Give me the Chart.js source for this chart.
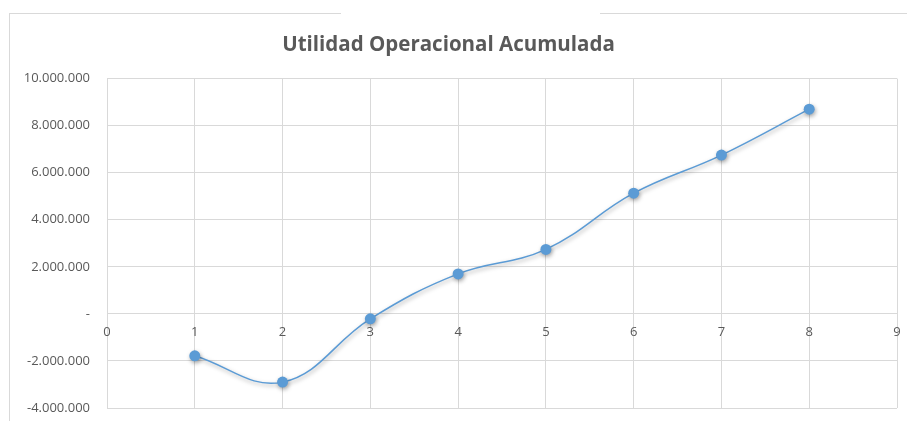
<!DOCTYPE html>
<html>
<head>
<meta charset="utf-8">
<script src="https://cdn.jsdelivr.net/npm/chart.js@4.4.1/dist/chart.umd.min.js"></script>
<style>
  html, body { margin: 0; padding: 0; background: #fff; }
  #wrap { position: relative; width: 907px; height: 421px; }
  #frame { position: absolute; left: 9px; top: 13px; right: -2px; bottom: -2px;
           border-left: 1px solid #d9d9d9; border-top: 1px solid #d9d9d9; }
  #gap { position: absolute; left: 341px; top: 11px; width: 259px; height: 4px; background: #fff; }
  canvas { position: absolute; left: 0; top: 0; }
</style>
</head>
<body>
<div id="wrap">
  <div id="frame"></div>
  <div id="gap"></div>
  <canvas id="utilidadChart" width="907" height="421"></canvas>
</div>
<script>
// Periodos y valores
const periodos = [1, 2, 3, 4, 5, 6, 7, 8];
const utilidadAcumulada = [-1780000, -2900000, -210000, 1700000, 2740000, 5130000, 6750000, 8700000];

// Escalas
const xMin = 0, xMax = 9, xStep = 1;
const yMin = -4000000, yMax = 10000000, yStep = 2000000;

const gridColor = '#d9d9d9';
const textColor = '#595959';
const serieColor = '#5b9bd5';

// Formato de miles con punto, el cero como guion
function formatMiles(value) {
    if (value === 0) return '-';
    return value.toLocaleString('de-DE');
}

// Sombra suave bajo los marcadores
const sombraPlugin = {
    id: 'sombra',
    beforeDatasetDraw(chart) {
        const ctx = chart.ctx;
        ctx.save();
        ctx.shadowColor = 'rgba(0,0,0,0.35)';
        ctx.shadowBlur = 4;
        ctx.shadowOffsetX = 1;
        ctx.shadowOffsetY = 2;
    },
    afterDatasetDraw(chart) {
        chart.ctx.restore();
    }
};

try {
    const ctx = document.getElementById('utilidadChart').getContext('2d');
    new Chart(ctx, {
        type: 'scatter',
        data: {
            datasets: [{
                label: 'Utilidad Operacional Acumulada',
                data: periodos.map((p, i) => ({ x: p, y: utilidadAcumulada[i] })),
                showLine: true,
                tension: 0.4,
                borderColor: serieColor,
                borderWidth: 1.5,
                backgroundColor: serieColor,
                pointRadius: 5.5,
                pointBorderWidth: 0,
                pointHoverRadius: 5.5
            }]
        },
        plugins: [sombraPlugin],
        options: {
            responsive: false,
            animation: false,
            layout: { padding: { left: 0, right: 10, top: 0, bottom: 13 } },
            plugins: {
                legend: { display: false },
                tooltip: { enabled: false },
                title: {
                    display: true,
                    text: 'Utilidad Operacional Acumulada',
                    color: textColor,
                    font: { family: 'Open Sans', size: 20.5, weight: '700' },
                    padding: { top: 33, bottom: 21 }
                }
            },
            scales: {
                x: {
                    type: 'linear',
                    position: { y: 0 },
                    min: xMin,
                    max: xMax,
                    grid: { color: gridColor, drawTicks: false },
                    border: { display: false },
                    afterFit(scale) {
                        scale.height = 0;
                        scale.paddingLeft = 0;
                        scale.paddingRight = 0;
                        scale.paddingTop = 0;
                        scale.paddingBottom = 0;
                    },
                    ticks: {
                        stepSize: xStep,
                        color: textColor,
                        padding: 11,
                        font: { family: 'Open Sans', size: 13 }
                    }
                },
                y: {
                    min: yMin,
                    max: yMax,
                    grid: { color: gridColor, drawTicks: false },
                    border: { display: false },
                    afterFit(scale) {
                        scale.width = 107;
                        scale.paddingTop = 0;
                        scale.paddingBottom = 0;
                    },
                    ticks: {
                        stepSize: yStep,
                        color: textColor,
                        padding: 17,
                        font: { family: 'Open Sans', size: 13 },
                        callback: value => formatMiles(value)
                    }
                }
            }
        }
    });
} catch (error) {
    console.error('Error creating chart:', error);
}
</script>
</body>
</html>
